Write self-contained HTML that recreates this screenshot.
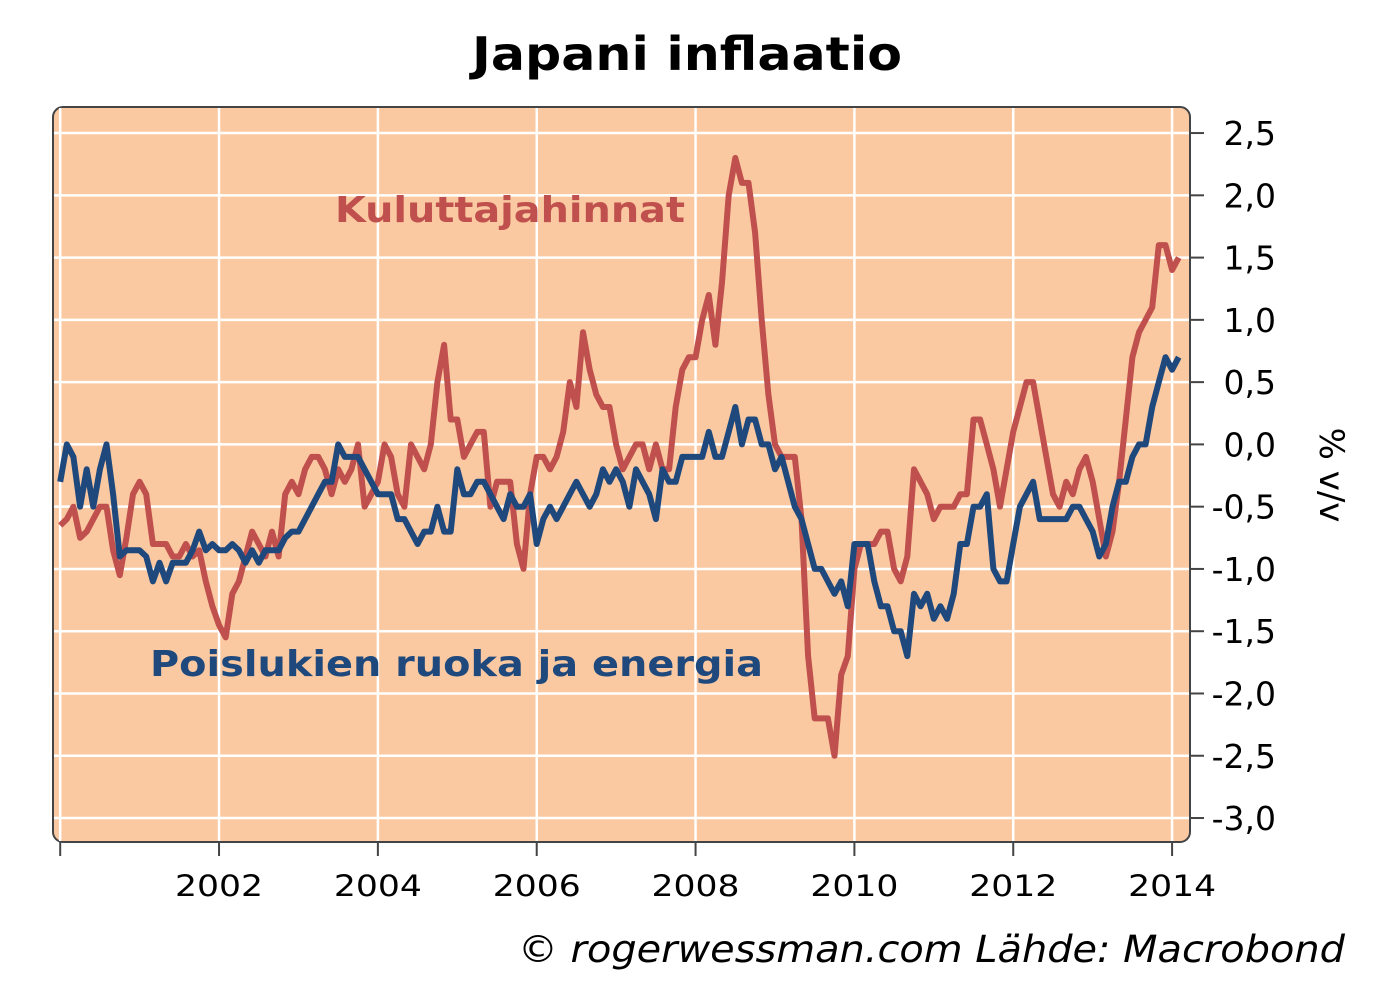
<!DOCTYPE html>
<html><head><meta charset="utf-8"><style>
body{margin:0;background:#fff;}
svg{display:block;font-family:"DejaVu Sans","Liberation Sans",sans-serif;}
</style></head><body>
<svg id="c" width="1375" height="1000">
<text x="472" y="70" textLength="430" lengthAdjust="spacingAndGlyphs" font-size="46" font-weight="bold">Japani inflaatio</text>
<rect x="53" y="107" width="1137" height="735" rx="10" fill="#FAC9A1" stroke="#444" stroke-width="2"/>
<g id="grid"></g><g id="axes"></g><g id="series"></g>
<text x="335" y="222" textLength="350" lengthAdjust="spacingAndGlyphs" font-size="36" font-weight="bold" fill="#C0504D">Kuluttajahinnat</text>
<text x="150" y="676" textLength="613" lengthAdjust="spacingAndGlyphs" font-size="36" font-weight="bold" fill="#1F497D">Poislukien ruoka ja energia</text>
<text transform="translate(1320,475) rotate(90)" text-anchor="middle" font-size="34">% v/v</text>
<text x="518" y="962" textLength="827" lengthAdjust="spacingAndGlyphs" font-size="37" font-style="italic">© rogerwessman.com Lähde: Macrobond</text>
</svg>
<script>
const yTicks=[2.5,2.0,1.5,1.0,0.5,0.0,-0.5,-1.0,-1.5,-2.0,-2.5,-3.0];
const yTickLabels=["2,5","2,0","1,5","1,0","0,5","0,0","-0,5","-1,0","-1,5","-2,0","-2,5","-3,0"];
const xYears=[2002,2004,2006,2008,2010,2012,2014];
const startYear=2000;
const cpi=[-0.65,-0.6,-0.5,-0.75,-0.7,-0.6,-0.5,-0.5,-0.85,-1.05,-0.75,-0.4,-0.3,-0.4,-0.8,-0.8,-0.8,-0.9,-0.9,-0.8,-0.9,-0.85,-1.1,-1.3,-1.45,-1.55,-1.2,-1.1,-0.9,-0.7,-0.8,-0.9,-0.7,-0.9,-0.4,-0.3,-0.4,-0.2,-0.1,-0.1,-0.2,-0.4,-0.2,-0.3,-0.2,0.0,-0.5,-0.4,-0.3,0.0,-0.1,-0.4,-0.5,0.0,-0.1,-0.2,0.0,0.5,0.8,0.2,0.2,-0.1,0.0,0.1,0.1,-0.5,-0.3,-0.3,-0.3,-0.8,-1.0,-0.4,-0.1,-0.1,-0.2,-0.1,0.1,0.5,0.3,0.9,0.6,0.4,0.3,0.3,0.0,-0.2,-0.1,0.0,0.0,-0.2,0.0,-0.2,-0.2,0.3,0.6,0.7,0.7,1.0,1.2,0.8,1.3,2.0,2.3,2.1,2.1,1.7,1.0,0.4,0.0,-0.1,-0.1,-0.1,-0.6,-1.7,-2.2,-2.2,-2.2,-2.5,-1.85,-1.7,-1.0,-0.8,-0.8,-0.8,-0.7,-0.7,-1.0,-1.1,-0.9,-0.2,-0.3,-0.4,-0.6,-0.5,-0.5,-0.5,-0.4,-0.4,0.2,0.2,0.0,-0.2,-0.5,-0.2,0.1,0.3,0.5,0.5,0.2,-0.1,-0.4,-0.5,-0.3,-0.4,-0.2,-0.1,-0.3,-0.6,-0.9,-0.7,-0.3,0.2,0.7,0.9,1.0,1.1,1.6,1.6,1.4,1.5];
const core=[-0.3,0.0,-0.1,-0.5,-0.2,-0.5,-0.2,0.0,-0.4,-0.9,-0.85,-0.85,-0.85,-0.9,-1.1,-0.95,-1.1,-0.95,-0.95,-0.95,-0.85,-0.7,-0.85,-0.8,-0.85,-0.85,-0.8,-0.85,-0.95,-0.85,-0.95,-0.85,-0.85,-0.85,-0.75,-0.7,-0.7,-0.6,-0.5,-0.4,-0.3,-0.3,0.0,-0.1,-0.1,-0.1,-0.2,-0.3,-0.4,-0.4,-0.4,-0.6,-0.6,-0.7,-0.8,-0.7,-0.7,-0.5,-0.7,-0.7,-0.2,-0.4,-0.4,-0.3,-0.3,-0.4,-0.5,-0.6,-0.4,-0.5,-0.5,-0.4,-0.8,-0.6,-0.5,-0.6,-0.5,-0.4,-0.3,-0.4,-0.5,-0.4,-0.2,-0.3,-0.2,-0.3,-0.5,-0.2,-0.3,-0.4,-0.6,-0.2,-0.3,-0.3,-0.1,-0.1,-0.1,-0.1,0.1,-0.1,-0.1,0.1,0.3,0.0,0.2,0.2,0.0,0.0,-0.2,-0.1,-0.3,-0.5,-0.6,-0.8,-1.0,-1.0,-1.1,-1.2,-1.1,-1.3,-0.8,-0.8,-0.8,-1.1,-1.3,-1.3,-1.5,-1.5,-1.7,-1.2,-1.3,-1.2,-1.4,-1.3,-1.4,-1.2,-0.8,-0.8,-0.5,-0.5,-0.4,-1.0,-1.1,-1.1,-0.8,-0.5,-0.4,-0.3,-0.6,-0.6,-0.6,-0.6,-0.6,-0.5,-0.5,-0.6,-0.7,-0.9,-0.8,-0.5,-0.3,-0.3,-0.1,0.0,0.0,0.3,0.5,0.7,0.6,0.7];
const NS="http://www.w3.org/2000/svg";
function yS(v){return 444.4-(v)*124.54;}
function xS(t){return 60.2+(t-2000)*79.42;}
function mk(tag,attrs,parent){const e=document.createElementNS(NS,tag);for(const k in attrs)e.setAttribute(k,attrs[k]);parent.appendChild(e);return e;}
const grid=document.getElementById('grid'),axes=document.getElementById('axes'),ser=document.getElementById('series');
yTicks.forEach((v,i)=>{
 const g=mk('line',{x1:54,x2:1189,y1:yS(v),y2:yS(v),stroke:'#fff','stroke-width':2.5},grid);
 
 
 const t=mk('line',{x1:1190,x2:1204,y1:yS(v),y2:yS(v),stroke:'#444','stroke-width':2},axes);
 
 
 const l=mk('text',{x:1276,y:yS(v)+12,'font-size':33,'text-anchor':'end'},axes);
 l.textContent=yTickLabels[i];
 
 
});
[2000].concat(xYears).forEach(yr=>{
 const g=mk('line',{x1:xS(yr),x2:xS(yr),y1:108,y2:841,stroke:'#fff','stroke-width':2.5},grid);
 
 
 const t=mk('line',{x1:xS(yr),x2:xS(yr),y1:842,y2:856,stroke:'#444','stroke-width':2},axes);
 
 
});
xYears.forEach(yr=>{
 const l=mk('text',{x:xS(yr)-44,y:896,'font-size':29,textLength:88,lengthAdjust:'spacingAndGlyphs'},axes);
 l.textContent=String(yr);
 
 
});
function line(arr,color,name){
 const pts=arr.map((v,i)=>xS(startYear+i/12).toFixed(1)+','+yS(v).toFixed(1)).join(' ');
 const p=mk('polyline',{points:pts,fill:'none',stroke:color,'stroke-width':6,'stroke-linejoin':'round'},ser);
 
 
}
line(cpi,'#C0504D','cpi-line');
line(core,'#1F497D','core-line');
</script>
</body></html>
